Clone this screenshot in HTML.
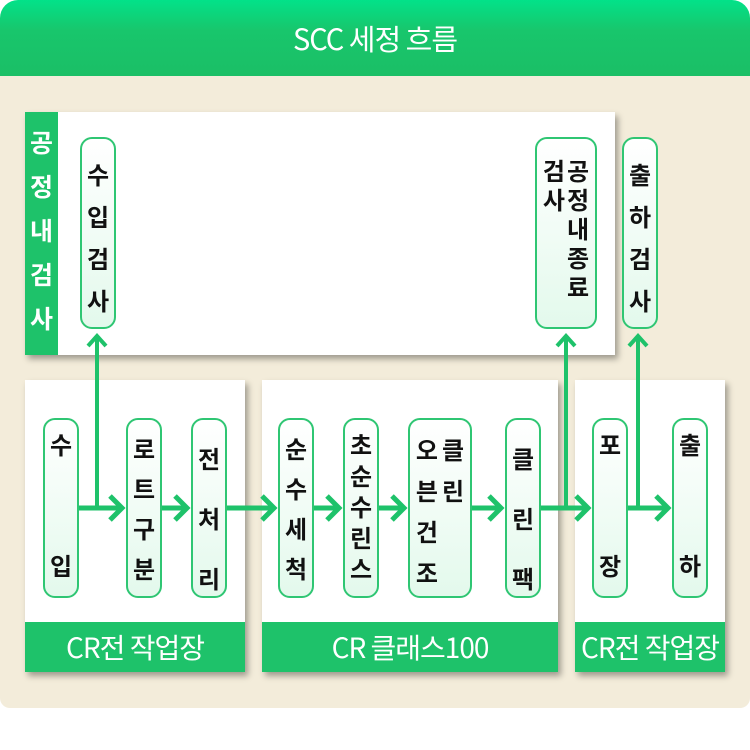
<!DOCTYPE html>
<html><head><meta charset="utf-8"><style>
body{margin:0;width:750px;height:750px;background:#fff;position:relative;overflow:hidden;font-family:"Liberation Sans","Noto Sans CJK KR",sans-serif}
.abs{position:absolute}
.hdr{left:0;top:0;width:750px;height:76px;background:linear-gradient(#02e289,#18c66c 40%,#1bbf66);border-radius:18px 18px 0 0;color:#fff;font-size:29px;text-align:center;line-height:76px;font-family:"Noto Sans CJK KR",sans-serif;letter-spacing:-1px}
.bg{left:0;top:76px;width:750px;height:632px;background:#f3ecda;border-radius:0 0 10px 10px}
.box{background:#fff;box-shadow:3px 4px 6px rgba(0,0,0,.35)}
.band{background:#1ec26a;color:#fff;font-size:28px;text-align:center;line-height:50px;font-family:"Noto Sans CJK KR",sans-serif;letter-spacing:-1px}
.node{background:linear-gradient(#fff,#e3f9ec);border:2px solid #2fc673;border-radius:12px;box-sizing:border-box;font-size:24px;font-weight:bold;color:#111;font-family:"Noto Sans CJK KR",sans-serif;text-align:center;line-height:1.3;display:flex;flex-direction:column;align-items:center}
</style></head><body>
<div class="abs hdr">SCC 세정 흐름</div>
<div class="abs bg"></div>
<div class="abs box" style="left:25px;top:112px;width:590px;height:243px"></div>
<div class="abs" style="left:25px;top:112px;width:33px;height:243px;background:#1ec26a;color:#fff;font-size:25px;font-weight:bold;font-family:'Noto Sans CJK KR',sans-serif;text-align:center;line-height:44px;padding-top:8px;box-sizing:border-box">공<br>정<br>내<br>검<br>사</div>

<div class="abs node" style="left:80px;top:137px;width:36px;height:192px;padding-top:14px;line-height:42px">수<br>입<br>검<br>사</div>
<div class="abs node" style="left:535px;top:137px;width:62px;height:192px;padding-top:16px;flex-direction:row;align-items:flex-start;justify-content:center;gap:2px"><div style="line-height:29px">검<br>사</div><div style="line-height:29px">공<br>정<br>내<br>종<br>료</div></div>
<div class="abs node" style="left:622px;top:137px;width:36px;height:192px;padding-top:14px;line-height:42px">출<br>하<br>검<br>사</div>

<div class="abs box" style="left:25px;top:380px;width:220px;height:292px"></div>
<div class="abs box" style="left:262px;top:380px;width:296px;height:292px"></div>
<div class="abs box" style="left:575px;top:380px;width:150px;height:292px"></div>
<div class="abs band" style="left:25px;top:622px;width:220px;height:50px">CR전 작업장</div>
<div class="abs band" style="left:262px;top:622px;width:296px;height:50px">CR 클래스100</div>
<div class="abs band" style="left:575px;top:622px;width:150px;height:50px">CR전 작업장</div>

<div class="abs node" style="left:43px;top:418px;width:36px;height:180px;padding-top:8px;justify-content:space-between;padding-bottom:16px">수<span>입</span></div>
<div class="abs node" style="left:126px;top:418px;width:36px;height:180px;padding-top:8px;line-height:40px">로<br>트<br>구<br>분</div>
<div class="abs node" style="left:191px;top:418px;width:36px;height:180px;padding-top:8px;line-height:60px">전<br>처<br>리</div>
<div class="abs node" style="left:278px;top:418px;width:36px;height:180px;padding-top:8px;line-height:40px">순<br>수<br>세<br>척</div>
<div class="abs node" style="left:343px;top:418px;width:36px;height:180px;padding-top:8px;line-height:31px">초<br>순<br>수<br>린<br>스</div>
<div class="abs node" style="left:408px;top:418px;width:64px;height:180px;padding-top:8px;flex-direction:row;align-items:flex-start;justify-content:center;gap:4px"><div style="line-height:41px">오<br>븐<br>건<br>조</div><div style="line-height:41px">클<br>린</div></div>
<div class="abs node" style="left:505px;top:418px;width:36px;height:180px;padding-top:8px;line-height:60px">클<br>린<br>팩</div>
<div class="abs node" style="left:592px;top:418px;width:36px;height:180px;padding-top:8px;justify-content:space-between;padding-bottom:16px">포<span>장</span></div>
<div class="abs node" style="left:672px;top:418px;width:36px;height:180px;padding-top:8px;justify-content:space-between;padding-bottom:16px">출<span>하</span></div>

<svg class="abs" style="left:0;top:0" width="750" height="750">
<g stroke="#1ec26a" stroke-width="5" fill="none" stroke-linejoin="miter">
<line x1="79" y1="508" x2="121" y2="508"/><polyline points="110,496 122,508 110,520"/>
<line x1="162" y1="508" x2="186" y2="508"/><polyline points="175,496 187,508 175,520"/>
<line x1="227" y1="508" x2="273" y2="508"/><polyline points="262,496 274,508 262,520"/>
<line x1="314" y1="508" x2="338" y2="508"/><polyline points="327,496 339,508 327,520"/>
<line x1="379" y1="508" x2="403" y2="508"/><polyline points="392,496 404,508 392,520"/>
<line x1="472" y1="508" x2="500" y2="508"/><polyline points="489,496 501,508 489,520"/>
<line x1="541" y1="508" x2="587" y2="508"/><polyline points="576,496 588,508 576,520"/>
<line x1="628" y1="508" x2="667" y2="508"/><polyline points="656,496 668,508 656,520"/>
</g>
<g stroke="#1ec26a" stroke-width="4" fill="none">
<line x1="97" y1="508" x2="97" y2="336"/><polyline points="88,346 97,336 106,346"/>
<line x1="566" y1="508" x2="566" y2="336"/><polyline points="557,346 566,336 575,346"/>
<line x1="638" y1="508" x2="638" y2="336"/><polyline points="629,346 638,336 647,346"/>
</g>
</svg>
</body></html>
